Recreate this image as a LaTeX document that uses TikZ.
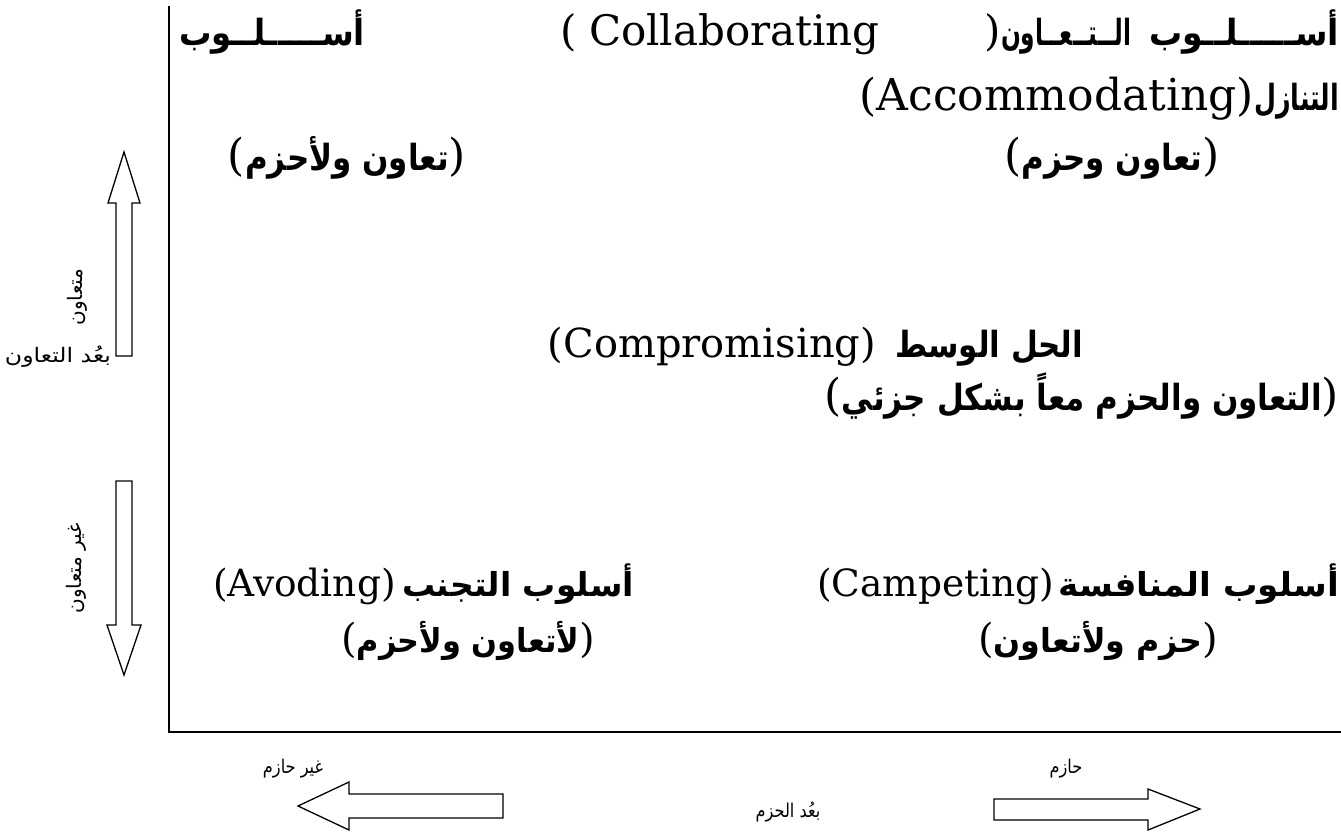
\documentclass[tikz,border=0pt]{standalone}
\usepackage{fontspec}
\usepackage{graphicx}
\TeXXeTstate=1
\setmainfont{DejaVu Serif}
\newfontfamily\arabicfont[Script=Arabic]{DejaVu Sans}
\newfontfamily\latfont{DejaVu Serif}

% squeeze or stretch a piece of text horizontally to a given width (in pt)
\newsavebox\fitbox
\newcommand\fitw[2]{\sbox\fitbox{#2}\pgfmathsetmacro\fitratio{#1/\the\wd\fitbox}\scalebox{\fitratio}[1]{\usebox\fitbox}}

% text faces
\newcommand\fs[1]{\fontsize{#1}{#1}\selectfont}
\newcommand\AR[1]{{\arabicfont\bfseries #1}}
\newcommand\ARs[1]{{\arabicfont #1}}
% Arabic (size #1, horizontal scale #3) between parentheses of the Latin face (size #2)
\newcommand\ARp[4]{{\latfont\fs{#2}(}\scalebox{#3}[1]{\fs{#1}\AR{#4}}{\latfont\fs{#2})}}

\tikzset{
  txt/.style={inner sep=0pt, outer sep=0pt},
  axisline/.style={line width=2.4pt, line join=miter},
  blockarrow/.style={draw, line width=1.3pt, fill=white, line join=miter},
}

\begin{document}
\begin{tikzpicture}[x=1pt, y=-1pt]
\useasboundingbox (0,0) rectangle (1341,836);

% axes
\coordinate (ytop) at (169,6);
\coordinate (origin) at (169,732);
\coordinate (xend) at (1341,732);
\draw[axisline] (ytop) -- (origin) -- (xend);

% block arrows of the cooperation dimension
\draw[blockarrow] (124,152) -- (140,203) -- (132,203) -- (132,356) -- (116,356) -- (116,203) -- (108,203) -- cycle;
\draw[blockarrow] (124,675) -- (141,625) -- (132,625) -- (132,481) -- (116,481) -- (116,625) -- (107,625) -- cycle;

% block arrows of the assertiveness dimension
\draw[blockarrow] (298,806) -- (349,782) -- (349,794) -- (503,794) -- (503,818) -- (349,818) -- (349,830) -- cycle;
\draw[blockarrow] (1200,809) -- (1148,789) -- (1148,799) -- (994,799) -- (994,820) -- (1148,820) -- (1148,830) -- cycle;

% first line (distributed)
\node[txt, anchor=base west] (c1) at (179,45) {\fs{36}\fitw{186}{\AR{\beginR أســـــلــوب\endR}}};
\node[txt, anchor=base west] (c2) at (560,45) {\latfont\fs{42}(};
\node[txt, anchor=base west] (c3) at (589,45) {\latfont\fs{42}Collaborating};
\node[txt, anchor=base west] (c5) at (1001,45) {\fs{36}\fitw{130}{\AR{\beginR الــتــعــاون\endR}}};
\node[txt, anchor=base east] (c4) at (c5.base west) {\latfont\fs{42})};
\node[txt, anchor=base east] (c6) at (1339,45) {\fs{36}\fitw{190}{\AR{\beginR أســـــلــوب\endR}}};

% second line
\node[txt, anchor=base east] (c7) at (1339,110) {\fs{36}\fitw{85}{\AR{\beginR التنازل\endR}}};
\node[txt, anchor=base east] (c8) at (c7.base west) {\latfont\fs{44}(Accommodating)};

% quadrant notes, top row
\node[txt, anchor=base] (q1) at (347,170) {\ARp{36}{44}{0.86}{\beginR تعاون ولأحزم\endR}};
\node[txt, anchor=base] (q2) at (1112,170) {\ARp{36}{44}{0.86}{\beginR تعاون وحزم\endR}};

% centre
\node[txt, anchor=base east] (m1) at (876,357) {\latfont\fs{40}(Compromising)};
\node[txt, anchor=base west] (m2) at (895,357) {\scalebox{0.86}[1]{\fs{36}\AR{\beginR الحل الوسط\endR}}};
\node[txt, anchor=base east] (m3) at (1339,410) {\ARp{36}{44}{0.86}{\beginR التعاون والحزم معاً بشكل جزئي\endR}};

% bottom row
\node[txt, anchor=base west] (b1) at (213,596) {\latfont\fs{37.5}(Avoding)};
\node[txt, anchor=base west] (b2) at (402,596) {\fs{33}\AR{\beginR أسلوب التجنب\endR}};
\node[txt, anchor=base] (b3) at (468,652) {\ARp{33}{40}{0.92}{\beginR لأتعاون ولأحزم\endR}};
\node[txt, anchor=base west] (b4) at (817,596) {\latfont\fs{37.5}(Campeting)};
\node[txt, anchor=base east] (b5) at (1339,596) {\scalebox{1.04}[1]{\fs{33}\AR{\beginR أسلوب المنافسة\endR}}};
\node[txt, anchor=base] (b6) at (1098,652) {\ARp{33}{40}{0.96}{\beginR حزم ولأتعاون\endR}};

% axis captions
\node[txt, anchor=base west] (a1) at (5,362) {\fs{20}\fitw{106}{\ARs{\beginR بعُد التعاون\endR}}};
\node[txt, rotate=90] (a2) at (77,297) {\fs{20}\ARs{\beginR متعاون\endR}};
\node[txt, rotate=90] (a3) at (76,568) {\fs{20}\ARs{\beginR غير متعاون\endR}};
\node[txt] (a4) at (293,769) {\scalebox{0.85}[1]{\fs{19}\ARs{\beginR غير حازم\endR}}};
\node[txt] (a5) at (1066,769) {\scalebox{0.85}[1]{\fs{19}\ARs{\beginR حازم\endR}}};
\node[txt] (a6) at (788,812) {\scalebox{0.85}[1]{\fs{19}\ARs{\beginR بعُد الحزم\endR}}};
\end{tikzpicture}
\end{document}
